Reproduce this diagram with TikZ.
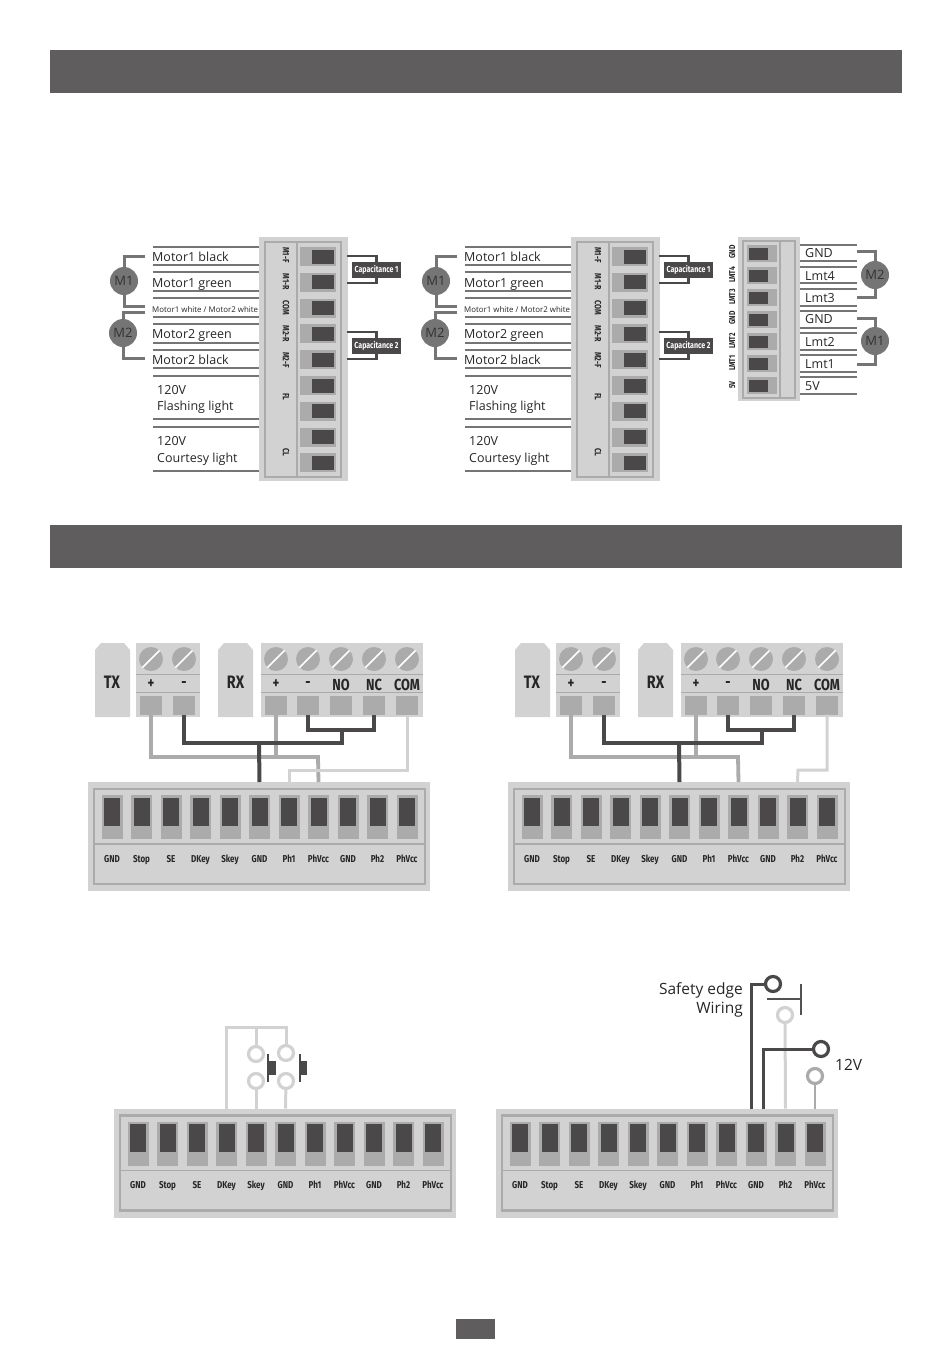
\documentclass[tikz,border=0pt]{standalone}
\usepackage{fontspec}
\setmainfont{Open Sans}
\newfontfamily\din[FakeStretch=0.8]{Fira Sans}
\usetikzlibrary{calc}

\definecolor{barcol}{HTML}{5F5D5D}
\definecolor{darkcol}{HTML}{4A4848}
\definecolor{midcol}{HTML}{ABABAB}
\definecolor{lightcol}{HTML}{D2D2D2}
\definecolor{leadcol}{HTML}{757575}

\tikzset{
	headbar/.style={draw=none, fill=barcol, rectangle, inner sep=0},
	plate/.style={draw=none, fill=lightcol, rectangle, inner sep=0},
	slotbase/.style={draw=none, fill=midcol, rectangle, inner sep=0},
	slotcore/.style={draw=none, fill=darkcol, rectangle, inner sep=0},
	frameline/.style={draw=midcol, line width=2.6pt},
	thinline/.style={draw=midcol, line width=1.2pt},
	lead/.style={draw=leadcol, line width=1.8pt},
	motorlead/.style={draw=leadcol, line width=3pt},
	motor/.style={circle, fill=leadcol, draw=none, minimum size=28pt, inner sep=0, font=\fontsize{13}{13}\selectfont, text=black!80},
	caplead/.style={draw=darkcol, line width=2.8pt},
	capbox/.style={fill=darkcol, text=white, rectangle, inner sep=0, minimum width=49pt, minimum height=16pt, font=\din\bfseries\fontsize{8.8}{8.8}\selectfont},
	wiretext/.style={anchor=west, inner sep=0, text height=10.5pt, text depth=2pt, text=black!85, font=\fontsize{12.5}{12.5}\selectfont},
	tinylabel/.style={inner sep=0, text height=6.2pt, text depth=0pt, text=black!85, font=\din\bfseries\fontsize{9}{9}\selectfont},
	boardlabel/.style={inner sep=0, text height=7pt, text depth=0pt, text=black!85, font=\din\bfseries\fontsize{10}{10}\selectfont},
	bigterm/.style={inner sep=0, text=black!85, font=\din\bfseries\fontsize{16}{16}\selectfont},
	screw/.style={circle, fill=midcol, draw=none, minimum size=24pt, inner sep=0},
	wiredark/.style={draw=darkcol, line width=4pt},
	wiremid/.style={draw=midcol, line width=3.8pt},
	wirelight/.style={draw=lightcol, line width=3pt},
	ring/.style={circle, fill=white, minimum size=15pt, inner sep=0, line width=3.2pt},
}

%% Motor wiring panel, #1 = name, #2 = x offset
\newcommand{\MotorPanel}[2]{%
	\begin{scope}[xshift=#2]
		\node[plate, minimum width=89pt, minimum height=244pt] (#1) at (303.5,359) {};
		\draw[thinline] (265,242) rectangle (341,477);
		\draw[thinline] (297,242) -- (297,477);
		%% Terminals
		\foreach \n in {1,...,9}{%
			\pgfmathsetmacro\yPos{256.5+(\n-1)*25.8}
			\node[slotbase, minimum width=36pt, minimum height=19pt] (#1-t\n) at (318,\yPos) {};
			\node[slotcore, minimum width=22pt, minimum height=14pt] at (322.5,\yPos) {};
		}
		\foreach \t/\y in {M1-F/255, M1-R/282, COM/308, M2-R/334, M2-F/360, FL/397, CL/452}{%
			\node[tinylabel, rotate=-90] at (286,\y) {\t};
		}
		%% Leads on the left
		\foreach \y in {247,265,272,291,298,317,324,343,350,368,376,419,427,471}{%
			\coordinate (#1-l\y) at (153,\y);
			\draw[lead] (#1-l\y) -- (#1-l\y -| #1.west);
		}
		\node[wiretext] at (152,257) {Motor1 black};
		\node[wiretext] at (152,283) {Motor1 green};
		\node[wiretext, text height=6.5pt, text depth=1.5pt, font=\fontsize{7.9}{7.9}\selectfont] at (152,310) {Motor1 white / Motor2 white};
		\node[wiretext] at (152,334.5) {Motor2 green};
		\node[wiretext] at (152,360) {Motor2 black};
		\node[wiretext] at (157,390) {120V};
		\node[wiretext] at (157,406.5) {Flashing light};
		\node[wiretext] at (157,441.5) {120V};
		\node[wiretext] at (157,458.5) {Courtesy light};
		%% Motors
		\node[motor] (#1-m1) at (124,281) {M1};
		\node[motor] (#1-m2) at (123,333) {M2};
		\coordinate (#1-a) at (145,256);
		\coordinate (#1-b) at (145,306);
		\coordinate (#1-c) at (145,312);
		\coordinate (#1-d) at (145,358);
		\draw[motorlead] (#1-a) -| (#1-m1);
		\draw[motorlead] (#1-b) -| (#1-m1);
		\draw[motorlead] (#1-c) -| (#1-m2);
		\draw[motorlead] (#1-d) -| (#1-m2);
		%% Capacitors
		\node[capbox] (#1-cap1) at (376.5,270) {Capacitance 1};
		\node[capbox] (#1-cap2) at (376.5,346) {Capacitance 2};
		\coordinate (#1-e) at (347,256);
		\coordinate (#1-f) at (347,283);
		\coordinate (#1-g) at (347,332);
		\coordinate (#1-h) at (347,359);
		\draw[caplead] (#1-e) -| (#1-cap1);
		\draw[caplead] (#1-f) -| (#1-cap1);
		\draw[caplead] (#1-g) -| (#1-cap2);
		\draw[caplead] (#1-h) -| (#1-cap2);
	\end{scope}
}

%% Terminal board, #1 = name, #2 = x, #3 = y
\newcommand{\TermBoard}[3]{%
	\begin{scope}[xshift=#2, yshift=-#3]
		\node[plate, minimum width=342pt, minimum height=109pt] (#1) at (171,54.5) {};
		\draw[frameline] (6,7) rectangle (337,102);
		\draw[thinline] (6,62) -- (337,62);
		\foreach \n/\t in {1/GND, 2/Stop, 3/SE, 4/DKey, 5/Skey, 6/GND, 7/Ph1, 8/PhVcc, 9/GND, 10/Ph2, 11/PhVcc}{%
			\pgfmathsetmacro\xPos{24+(\n-1)*29.5}
			\node[slotbase, minimum width=21pt, minimum height=44pt] (#1-s\n) at (\xPos,35) {};
			\node[slotcore, minimum width=16pt, minimum height=28pt] at (\xPos,29.5) {};
			\node[boardlabel] at (\xPos,76.5) {\t};
			\coordinate (#1-\n) at (\xPos,0);
		}
	\end{scope}
}

%% TX and RX blocks, #1 = name, #2 = x offset
\newcommand{\SensorSet}[2]{%
	\begin{scope}[xshift=#2]
		\fill[lightcol] (95,717) -- (95,650) -- (101,643) -- (124,643) -- (130,650) -- (130,717) -- cycle;
		\fill[lightcol] (218,717) -- (218,650) -- (224,643) -- (247,643) -- (253,650) -- (253,717) -- cycle;
		\node[bigterm, font=\din\bfseries\fontsize{18}{18}\selectfont] at (112,682) {TX};
		\node[bigterm, font=\din\bfseries\fontsize{18}{18}\selectfont] at (235.5,682) {RX};
		\node[plate, minimum width=64pt, minimum height=74pt] (#1-tx) at (168,680) {};
		\node[plate, minimum width=162pt, minimum height=74pt] (#1-rx) at (342,680) {};
		\foreach \a/\b in {136/200, 261/423}{%
			\draw[midcol, line width=1pt] (\a,674) -- (\b,674);
			\draw[midcol, line width=1pt] (\a,692) -- (\b,692);
		}
		\foreach \n/\x/\t in {1/151/+, 2/184/-, 3/276/+, 4/308/-, 5/341/NO, 6/374/NC, 7/407/COM}{%
			\node[screw] (#1-c\n) at (\x,659) {};
			\draw[white, line width=1.6pt] (#1-c\n.225) -- (#1-c\n.45);
			\node[bigterm] at (\x,684.5) {\t};
			\node[slotbase, minimum width=22pt, minimum height=19pt] (#1-p\n) at (\x,705) {};
		}
	\end{scope}
}

\begin{document}
\begin{tikzpicture}[x=1pt, y=-1pt]
	\useasboundingbox (0,0) rectangle (950,1353);

	%% Header bars and footer
	\node[headbar, minimum width=852pt, minimum height=43pt] (bar1) at (476,71.5) {};
	\node[headbar, minimum width=852pt, minimum height=43pt] (bar2) at (476,546.5) {};
	\node[headbar, minimum width=39pt, minimum height=20pt] (foot) at (475.5,1329) {};

	%% Motor panels
	\MotorPanel{ml}{0}
	\MotorPanel{mr}{312}

	%% Limit panel
	\node[plate, minimum width=62pt, minimum height=164pt] (lim) at (769,319) {};
	\draw[thinline] (743,241) rectangle (795,398);
	\draw[thinline] (780,241) -- (780,398);
	\foreach \n/\t/\l/\y in {1/GND/GND/252, 2/LMT4/Lmt4/275, 3/LMT3/Lmt3/297, 4/GND/GND/318, 5/LMT2/Lmt2/341, 6/LMT1/Lmt1/363, 7/5V/5V/385}{%
		\pgfmathsetmacro\yPos{253.5+(\n-1)*22}
		\node[slotbase, minimum width=30pt, minimum height=17pt] (lim-t\n) at (762,\yPos) {};
		\node[slotcore, minimum width=19pt, minimum height=12pt] at (758.5,\yPos) {};
		\node[tinylabel, rotate=90, font=\din\bfseries\fontsize{8.5}{8.5}\selectfont] at (732,\y) {\t};
		\node[wiretext] at (805,\y+1) {\l};
	}
	\foreach \y in {245,261,267,283,289,306,311,328,333,350,355,372,377,394}{%
		\coordinate (lim-l\y) at (857,\y);
		\draw[lead] (lim-l\y) -- (lim-l\y -| lim.east);
	}
	\node[motor] (lim-m2) at (875,275) {M2};
	\node[motor] (lim-m1) at (875,341) {M1};
	\coordinate (lim-a) at (857,251);
	\coordinate (lim-b) at (857,297);
	\coordinate (lim-c) at (857,318);
	\coordinate (lim-d) at (857,364);
	\draw[motorlead] (lim-a) -| (lim-m2);
	\draw[motorlead] (lim-b) -| (lim-m2);
	\draw[motorlead] (lim-c) -| (lim-m1);
	\draw[motorlead] (lim-d) -| (lim-m1);

	%% Terminal boards
	\TermBoard{b1}{88}{782}
	\TermBoard{b2}{508}{782}
	\TermBoard{b3}{114}{1108.5}
	\TermBoard{b4}{496}{1108.5}

	%% Photocell wiring, left
	\SensorSet{sl}{0}
	\draw[wiremid] (sl-p3.south) |- (318,757);
	\draw[wiremid] (sl-p1.south) |- (318,757) -- (b1-8);
	\draw[wirelight] (sl-p7.south) |- (289,770) -- (b1-7);
	\draw[wiredark] (sl-p2.south) |- (342,743) -- (342,730);
	\draw[wiredark] (sl-p4.south) |- (374,730) -- (sl-p6.south);
	\draw[wiredark] (259,743) -- (b1-6);

	%% Photocell wiring, right
	\SensorSet{sr}{420}
	\draw[wiremid] (sr-p3.south) |- (738,757);
	\draw[wiremid] (sr-p1.south) |- (738,757) -- (b2-8);
	\draw[wirelight] (sr-p7.south) |- (798,770) -- (b2-10);
	\draw[wiredark] (sr-p2.south) |- (762,743) -- (762,730);
	\draw[wiredark] (sr-p4.south) |- (794,730) -- (sr-p6.south);
	\draw[wiredark] (679,743) -- (b2-6);

	%% Push buttons
	\begin{scope}[every node/.style={ring, draw=lightcol}]
		\node (bt1) at (256,1054) {};
		\node (bt2) at (286,1053) {};
		\node (bt3) at (256,1081) {};
		\node (bt4) at (286,1081) {};
	\end{scope}
	\draw[wirelight] (b3-4) |- (286,1027) -- (bt2);
	\draw[wirelight] (256,1027) -- (bt1);
	\draw[wirelight] (bt3) -- (b3-5);
	\draw[wirelight] (bt4) -- (b3-6);
	\draw[darkcol, line width=1.4pt] (268,1054) -- (268,1082);
	\draw[darkcol, line width=1.4pt] (300,1054) -- (300,1082);
	\node[slotcore, minimum width=8pt, minimum height=14pt] (ps1) at (272,1068) {};
	\node[slotcore, minimum width=7pt, minimum height=14pt] (ps2) at (303.5,1068) {};

	%% Safety edge
	\node[ring, draw=darkcol] (se1) at (773,984) {};
	\node[ring, draw=lightcol] (se2) at (785,1015) {};
	\node[ring, draw=darkcol] (se3) at (821,1049) {};
	\node[ring, draw=midcol] (se4) at (815,1076) {};
	\coordinate (se5) at (751,1109);
	\coordinate (se6) at (763,1109);
	\draw[wirelight] (se2) -- (b4-10);
	\draw[darkcol, line width=3pt] (se5) |- (se1);
	\draw[darkcol, line width=3pt] (se6) |- (se3);
	\draw[midcol, line width=2.6pt] (se4) -- (b4-11);
	\draw[leadcol!70!black, line width=2.6pt] (767,999) -- (801,999);
	\draw[leadcol!70!black, line width=2.6pt] (801,984) -- (801,1015);
	\node[wiretext, anchor=east, text height=12pt, text depth=2pt, font=\fontsize{15.5}{15.5}\selectfont] (sedge) at (743,989) {Safety edge};
	\node[wiretext, anchor=east, text height=12pt, text depth=2pt, font=\fontsize{15.5}{15.5}\selectfont] (swire) at (743,1008.5) {Wiring};
	\node[wiretext, text height=12pt, text depth=2pt, font=\fontsize{15.5}{15.5}\selectfont] (volt) at (835,1065) {12V};
\end{tikzpicture}
\end{document}
